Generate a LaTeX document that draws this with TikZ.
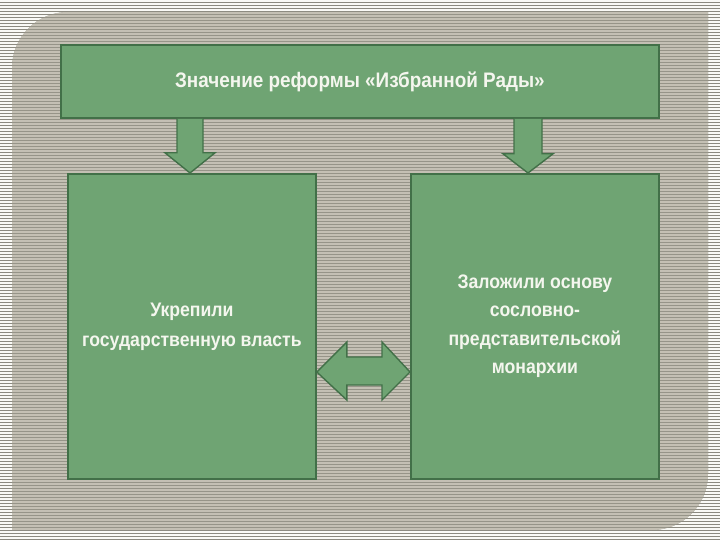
\documentclass[tikz,border=0pt]{standalone}
\usepackage{fontspec}
\setmainfont{Liberation Sans}[FakeStretch=0.9]
\usetikzlibrary{calc}
\definecolor{boxgreen}{RGB}{111,164,115}
\definecolor{boxedge}{RGB}{66,112,72}
\definecolor{outerbase}{RGB}{140,138,128}
\definecolor{outerline}{RGB}{250,250,246}
\definecolor{innerbase}{RGB}{150,148,136}
\definecolor{innerline}{RGB}{196,192,180}
\definecolor{txt}{RGB}{244,246,238}
\tikzset{
  greenbox/.style={draw=boxedge, line width=1.8pt, fill=boxgreen, anchor=north west, inner sep=0pt, align=center, text=txt, font=\bfseries},
  blockarrow/.style={draw=boxedge, line width=1.4pt, fill=boxgreen, line join=miter}
}
\begin{document}
\begin{tikzpicture}[x=1pt,y=-1pt]
\useasboundingbox (0,0) rectangle (720,540);
% outer striped background
\fill[outerbase] (0,0) rectangle (720,540);
\foreach \i in {0,...,179}{
  \draw[outerline, line width=1.3pt] (0,{3*\i+1}) -- (720,{3*\i+1});
}
% inner panel
\begin{scope}
\clip (12,530) -- (12,68) .. controls (12,37) and (37,12) .. (68,12) -- (708,12) -- (708,474) .. controls (708,505) and (683,530) .. (652,530) -- cycle;
\fill[innerbase] (0,0) rectangle (720,540);
\foreach \i in {0,...,179}{
  \draw[innerline, line width=1.1pt] (0,{3*\i+1}) -- (720,{3*\i+1});
}
\end{scope}
% boxes
\node[greenbox, minimum width=598pt, minimum height=73pt, font=\bfseries\fontsize{21}{24}\selectfont] (top) at (60,44) {Значение реформы «Избранной Рады»};
\node[greenbox, minimum width=248pt, minimum height=305pt, font=\bfseries\fontsize{19.6}{30}\selectfont] (left) at (67,173) {Укрепили\\государственную власть};
\node[greenbox, minimum width=248pt, minimum height=305pt, font=\bfseries\fontsize{19.6}{28.5}\selectfont] (right) at (410,173) {Заложили основу\\сословно-\\представительской\\монархии};
% down arrows
\coordinate (la) at ($(top.south west)+(130,0)$);
\coordinate (ra) at ($(top.south west)+(468,0)$);
\draw[blockarrow] ($(la)+(-13,0)$) -- ($(la)+(-13,34)$) -- ($(la)+(-25,34)$) -- ($(la|-left.north)$) -- ($(la)+(25,34)$) -- ($(la)+(13,34)$) -- ($(la)+(13,0)$);
\draw[blockarrow] ($(ra)+(-14,0)$) -- ($(ra)+(-14,35)$) -- ($(ra)+(-25,35)$) -- ($(ra|-right.north)$) -- ($(ra)+(25,35)$) -- ($(ra)+(14,35)$) -- ($(ra)+(14,0)$);
% double arrow
\coordinate (dl) at ($(left.north east)+(0,199)$);
\coordinate (dr) at ($(right.north west)+(0,199)$);
\draw[blockarrow] (dl) -- ($(dl)+(30,-30)$) -- ($(dl)+(30,-15)$) -- ($(dr)+(-28,-15)$) -- ($(dr)+(-28,-30)$) -- (dr) -- ($(dr)+(-28,28)$) -- ($(dr)+(-28,13)$) -- ($(dl)+(30,13)$) -- ($(dl)+(30,28)$) -- cycle;
\end{tikzpicture}
\end{document}
